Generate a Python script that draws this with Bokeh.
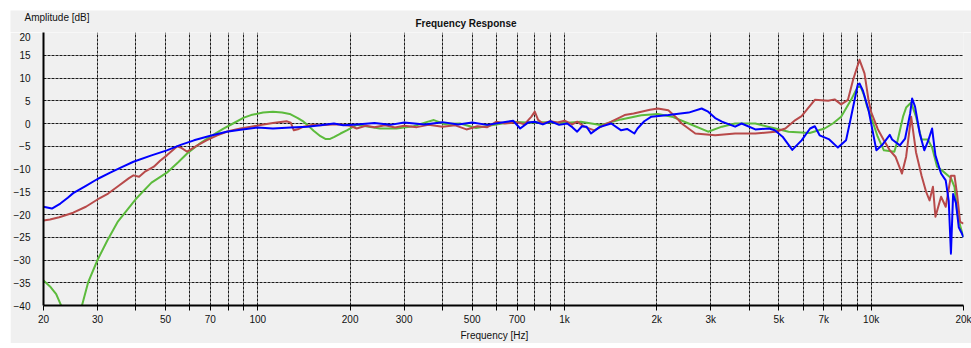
from bokeh.plotting import figure
from bokeh.models import Range1d, FixedTicker, Label, Title, Spacer
from bokeh.layouts import column, row
from bokeh.embed import file_html
from bokeh.resources import INLINE

# ---- data ----
green_f = [20, 21, 22, 23, 24, 25, 26, 26.7, 28, 30, 32.3, 35, 40, 45, 50.5, 55, 58.8, 65, 70, 77, 83, 90, 95,
           104, 112, 120, 127, 135, 141, 145, 152, 160, 166, 172, 177, 186, 195, 210, 230, 250, 283, 322, 350,
           375, 405, 456, 515, 585, 680, 750, 850, 1000, 1130, 1310, 1530, 1780, 2015, 2240, 2540, 2940, 3260,
           3600, 4190, 4870, 5380, 5930, 6300, 7050, 7500, 7980, 8600, 9040, 9250, 9500, 9700, 10100, 10500,
           11000, 11900, 12200, 12700, 13000, 13500, 14000, 14600, 15300, 15800, 16400, 17000, 18200, 18700,
           19100, 19600, 20000]
green_db = [-34.5, -35.8, -37.5, -40.5, -45, -52, -43, -40, -34.8, -30, -25.7, -21.5, -16.6, -13, -10.8, -8.5,
            -6.6, -4.3, -2.9, -1.2, 0, 1.3, 1.85, 2.4, 2.6, 2.4, 2.1, 1.2, 0.4, -0.3, -1.6, -2.8, -3.4, -3.4,
            -3.0, -2.2, -1.5, -0.3, -0.7, -1.1, -1.1, -0.6, 0.2, 0.75, -0.1, 0, -1.0, -0.35, 0.4, 0.2, 0.3, 0.1,
            0.4, -0.35, 0.9, 1.8, 2.1, 1.5, 0, -1.8, -0.7, 0, 0, -1.1, -1.8, -2.0, -2.1, -1.1, 0, 1.5, 5.2, 8.1,
            8.0, 6.0, 3.7, 0.5, -2.9, -5.9, -6.2, -3.7, 1.5, 3.5, 4.6, 1.5, -3.5, -3.5, -5.3, -9.5, -10.3, -12,
            -14, -19.8, -23, -25]

red_f = [20, 21, 22.5, 25, 27.5, 30, 32.5, 35, 38, 39.3, 41, 43, 45.8, 48, 50.5, 54.6, 56.5, 58.8, 63.5, 68,
         73.7, 80, 87.8, 95, 102, 112, 124, 128, 131, 136, 141, 150, 160, 175, 186, 200, 210, 225, 240, 260,
         280, 300, 330, 360, 400, 440, 479, 520, 560, 600, 640, 700, 740, 780, 800, 820, 850, 900, 950, 1000,
         1060, 1100, 1160, 1250, 1330, 1420, 1500, 1570, 1680, 1780, 1900, 2015, 2180, 2300, 2410, 2670, 3100,
         3600, 4190, 4870, 5250, 5660, 5930, 6550, 7240, 7600, 7980, 8400, 8730, 9160, 9510, 9800, 10000,
         10500, 11000, 11500, 12000, 12600, 13000, 13500, 14000, 14600, 15100, 15500, 15900, 16200, 16900,
         17500, 18200, 18700, 19100, 19500, 20000]
red_db = [-21.3, -21.1, -20.6, -19.6, -18.3, -16.7, -15.4, -13.8, -12.0, -11.4, -11.7, -10.5, -9.5, -8.2, -7,
          -5, -5.4, -6.2, -4.8, -3.7, -2.6, -1.7, -1.1, -0.7, -0.35, 0.1, 0.5, 0.2, -1.5, -1.2, -0.7, -0.3,
          -0.4, -0.2, -0.2, -0.5, -1.1, -0.5, -0.8, -0.4, -0.9, -0.5, -0.8, -0.3, -0.7, -0.4, -1.3, -0.6, -0.8,
          0.4, 0.0, 0.3, -0.2, 1.5, 2.6, 0.8, 0, 0.5, 0.2, 0.6, -0.2, 0.4, -0.7, -1.5, -0.5, 0.4, 1.2, 1.85,
          2.2, 2.6, 3.0, 3.3, 2.9, 1.5, 0, -2.2, -2.6, -2.2, -2.2, -1.8, -1.1, 0.75, 1.6, 5.2, 5.0, 5.3, 4.2,
          5.2, 9.6, 14, 11, 5.2, 2.5, -1.2, -3.7, -5.9, -7.3, -11, -7.3, 1.5, -6.3, -11.5, -15.0, -16.9, -13.9,
          -20.5, -16.1, -18.3, -11.5, -11.5, -16.1, -21.6, -22]

blue_f = [20, 21.3, 22.7, 24, 25, 27.5, 30, 33, 36, 39.3, 45, 50.5, 56, 61.9, 70, 79, 89, 99.6, 112, 128, 145,
          160, 177, 190, 210, 240, 270, 300, 350, 400, 450, 500, 560, 617, 680, 717, 760, 800, 850, 900, 960,
          1020, 1060, 1100, 1140, 1180, 1220, 1300, 1420, 1530, 1600, 1690, 1730, 1820, 1920, 2180, 2540, 2800,
          2940, 3100, 3260, 3600, 3780, 4190, 4650, 4850, 5140, 5530, 5930, 6320, 6550, 6790, 7300, 7790, 8280,
          8600, 9040, 9160, 9400, 9800, 10400, 10900, 11500, 11700, 12400, 12900, 13400, 13600, 13900, 14400,
          14900, 15300, 15800, 16200, 16900, 17500, 17900, 18200, 18500, 18900, 19300, 19700, 20000]
blue_db = [-18.3, -18.7, -17.6, -16.3, -15.3, -13.7, -12.2, -10.8, -9.6, -8.4, -7.0, -5.9, -4.7, -3.7, -2.7,
           -1.8, -1.3, -0.9, -1.1, -0.9, -0.7, -0.4, 0, -0.4, -0.2, 0.1, -0.3, 0.2, -0.2, 0.3, -0.2, 0.2, -0.3,
           0.15, 0.6, -1.1, 0.2, 0.4, -0.2, 0.5, -0.3, 0, -0.8, -1.8, -0.6, -0.7, -2.2, -0.8, 0, -1.5, -1.2,
           -2.2, -1.1, 0.5, 1.5, 1.85, 2.4, 3.3, 2.6, 1.2, 0.4, -0.7, 0, -1.3, -1.1, -1.5, -2.9, -5.8, -3.7,
           -1.1, -0.6, -2.6, -3.5, -5.3, -3.7, 1.5, 8.5, 8.8, 7.2, 3.0, -5.9, -4.6, -2.5, -3.5, -4.8, -3.3, 2.2,
           5.5, 3.7, -2.2, -5.9, -4.0, -1.1, -7.0, -11, -12.5, -17, -28.6, -15.5, -17.5, -22.8, -24, -25]

x_ticks = [20, 30, 40, 50, 60, 70, 80, 90, 100, 200, 300, 400, 500, 600, 700, 800, 900,
           1000, 2000, 3000, 4000, 5000, 6000, 7000, 8000, 9000, 10000, 20000]
x_tick_labels = ["20", "30", "", "50", "", "70", "", "", "100", "200", "300", "", "500", "", "700", "", "",
                 "1k", "2k", "3k", "", "5k", "", "7k", "", "", "10k", "20k"]
y_ticks = [-40, -35, -30, -25, -20, -15, -10, -5, 0, 5, 10, 15, 20]

FONT = "Liberation Sans"
FS = "10px"
BG = "#F0F0F0"
TXT = "#111111"
W = 961

# header strip holding the two top texts
hdr = figure(width=W, height=22, x_range=Range1d(0, W), y_range=Range1d(0, 22),
             x_axis_location=None, y_axis_location=None, title=None,
             output_backend="svg", toolbar_location=None, min_border=0,
             min_border_left=0, min_border_right=0, min_border_top=0, min_border_bottom=0)
hdr.background_fill_color = BG
hdr.border_fill_color = BG
hdr.outline_line_color = None
hdr.grid.visible = False
hdr.add_layout(Label(x=14, y=15, text="Amplitude [dB]", text_font=FONT, text_font_size=FS,
                     text_align="left", text_baseline="middle", text_color=TXT))
hdr.add_layout(Label(x=455.5, y=9.5, text="Frequency Response", text_font=FONT, text_font_size=FS,
                     text_font_style="bold", text_align="center", text_baseline="middle", text_color=TXT))

p = figure(width=W, height=311, x_axis_type="log", title=None,
           x_range=Range1d(20, 20000), y_range=Range1d(-40, 20),
           output_backend="svg", toolbar_location=None,
           min_border_left=33, min_border_right=8, min_border_top=0, min_border_bottom=38)
p.background_fill_color = BG
p.border_fill_color = BG
p.outline_line_color = None

p.line(green_f, green_db, line_color="#5CBB3C", line_width=2, line_join="round")
p.line(red_f, red_db, line_color="#B84A4A", line_width=2, line_join="round")
p.line(blue_f, blue_db, line_color="#0000FF", line_width=2, line_join="round")

p.xaxis.ticker = FixedTicker(ticks=x_ticks)
p.xaxis.major_label_overrides = {t: l for t, l in zip(x_ticks, x_tick_labels)}
p.yaxis.ticker = FixedTicker(ticks=y_ticks)

for ax in (p.xaxis[0], p.yaxis[0]):
    ax.axis_line_color = "black"
    ax.axis_line_width = 2
    ax.minor_tick_line_color = None
    ax.major_label_text_font = FONT
    ax.major_label_text_font_size = FS
    ax.major_label_text_color = TXT
    ax.major_tick_line_color = "black"
    ax.major_tick_in = 0

p.xaxis.major_tick_out = 5
p.xaxis.major_label_standoff = 3
p.yaxis.major_tick_out = 0
p.yaxis.major_label_standoff = 13

p.add_layout(Title(text="Frequency [Hz]", align="left", offset=417, standoff=0,
                   text_font=FONT, text_font_size=FS, text_font_style="normal",
                   text_color=TXT), "below")

for g in (p.xgrid[0], p.ygrid[0]):
    g.grid_line_color = "#1A1A1A"
    g.grid_line_dash = "3 1"
    g.grid_line_width = 1

layout = column(Spacer(height=10),
                row(Spacer(width=10), hdr, spacing=0),
                row(Spacer(width=10), p, spacing=0),
                spacing=0)

open("out.html", "w").write(file_html(layout, INLINE))
